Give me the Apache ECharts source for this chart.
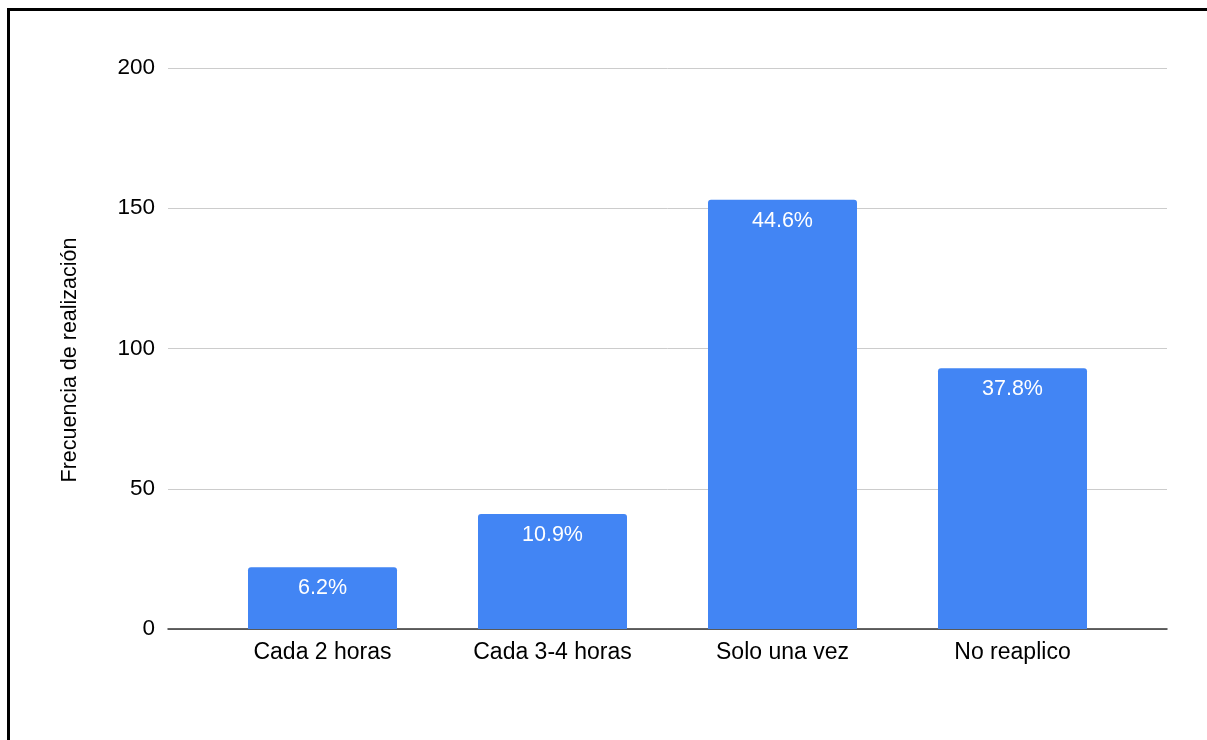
<!DOCTYPE html>
<html>
<head>
<meta charset="utf-8">
<script src="https://cdn.jsdelivr.net/npm/echarts@6/dist/echarts.min.js"></script>
<style>
html,body{margin:0;padding:0;background:#fff;}
#c{width:1207px;height:740px;}
</style>
</head>
<body>
<div id="c"></div>
<script>
const categories = ['Cada 2 horas', 'Cada 3-4 horas', 'Solo una vez', 'No reaplico'];
const values = [22, 41, 153, 93];
const percentLabels = ['6.2%', '10.9%', '44.6%', '37.8%'];
const yTicks = [0, 50, 100, 150, 200];
const yName = 'Frecuencia de realización';

const FONT = '"Liberation Sans", Arial, sans-serif';
const chart = echarts.init(document.getElementById('c'));
chart.setOption({
  animation: false,
  backgroundColor: '#fff',
  graphic: [
    { type: 'rect', shape: { x: 7, y: 8, width: 1200, height: 3 }, style: { fill: '#000' } },
    { type: 'rect', shape: { x: 7, y: 8, width: 3, height: 732 }, style: { fill: '#000' } },
    { type: 'text', x: 70, y: 360, rotation: Math.PI / 2,
      style: { text: yName, fill: '#000', font: '21.5px ' + FONT, align: 'center', verticalAlign: 'middle' } }
  ],
  grid: [
    { left: 168, right: 40, top: 68, bottom: 111 },
    { left: 207.5, right: 79.5, top: 68, bottom: 111 }
  ],
  xAxis: [
    { gridIndex: 0, type: 'value', min: 0, max: 1, show: true,
      axisLine: { show: true, onZero: false, lineStyle: { color: '#333', width: 1.5 } },
      axisTick: { show: false }, axisLabel: { show: false }, splitLine: { show: false } },
    { gridIndex: 1, type: 'category', data: categories,
      axisLine: { show: false }, axisTick: { show: false },
      axisLabel: { color: '#000', fontSize: 23, fontFamily: FONT, margin: 12 } }
  ],
  yAxis: [
    { gridIndex: 0, type: 'value', min: yTicks[0], max: yTicks[yTicks.length - 1], interval: 50,
      axisLine: { show: false }, axisTick: { show: false },
      axisLabel: { color: '#000', fontSize: 22.5, fontFamily: FONT, margin: 13 },
      splitLine: { lineStyle: { color: '#cccccc', width: 1 } } },
    { gridIndex: 1, type: 'value', min: yTicks[0], max: yTicks[yTicks.length - 1], interval: 50,
      show: false, splitLine: { show: false } }
  ],
  series: [
    { type: 'bar', xAxisIndex: 1, yAxisIndex: 1, data: values, barWidth: 149,
      itemStyle: { color: '#4285F4', borderRadius: [3, 3, 0, 0] },
      label: { show: true, position: 'insideTop', distance: 10,
        formatter: p => percentLabels[p.dataIndex],
        color: '#fff', fontSize: 21.5, fontFamily: FONT } }
  ]
});
</script>
</body>
</html>
